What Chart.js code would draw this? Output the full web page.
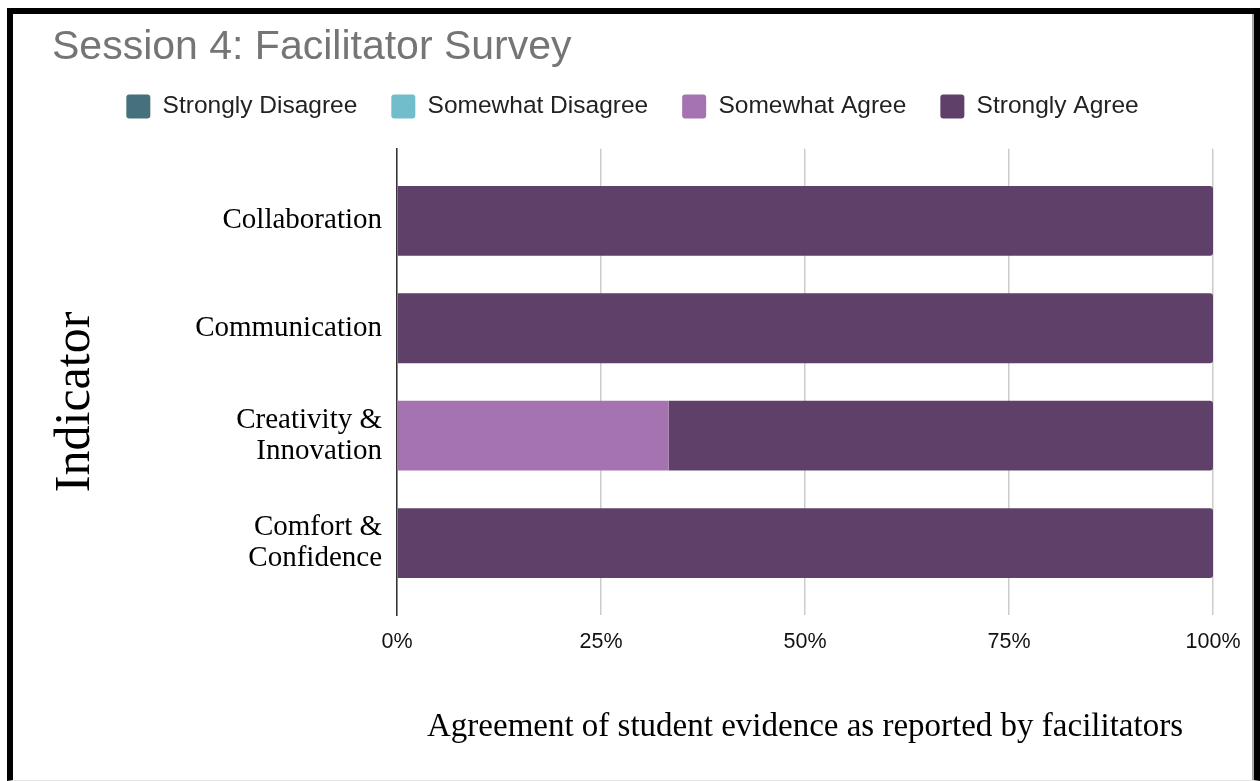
<!DOCTYPE html>
<html>
<head>
<meta charset="utf-8">
<script src="https://cdn.jsdelivr.net/npm/chart.js@4.4.1/dist/chart.umd.min.js"></script>
<style>
  html, body { margin: 0; padding: 0; background: #fff; }
  .frame {
    position: absolute; left: 7px; top: 8px;
    border: 6px solid #000; border-bottom: 1px solid #e6e6e6;
  }
  .box { position: relative; width: 1239px; height: 766px; border-right: 2px solid #a8a8a8; }
</style>
</head>
<body>
<div class="frame"><div class="box"><canvas id="Grafica"></canvas></div></div>
<script>
// survey answers, percent of facilitators per indicator
const categories = ['Collaboration', 'Communication', 'Creativity & Innovation', 'Comfort & Confidence'];
const stronglyDisagree = [0, 0, 0, 0];
const somewhatDisagree = [0, 0, 0, 0];
const somewhatAgree = [0, 0, 33.3, 0];
const stronglyAgree = [100, 100, 66.7, 100];
const xTicks = [0, 25, 50, 75, 100];

const toPoints = arr => arr.map((v, i) => ({ x: v, y: i }));

// "Indicator" is centred a bit lower than the plot, so it is drawn by hand
const yTitle = {
  id: 'yTitle',
  afterDraw(chart) {
    const ctx = chart.ctx;
    const area = chart.chartArea;
    ctx.save();
    ctx.translate(63, (area.top + area.bottom) / 2 + 20);
    ctx.rotate(-Math.PI / 2);
    ctx.font = '50px "Liberation Serif"';
    ctx.fillStyle = '#000';
    ctx.textAlign = 'center';
    ctx.textBaseline = 'middle';
    ctx.fillText('Indicator', 0, 0);
    ctx.restore();
  }
};

var ctx = document.querySelector('#Grafica').getContext('2d');
var myChart = new Chart(ctx, {
  type: 'bar',
  data: {
    datasets: [
      { label: 'Strongly Disagree', backgroundColor: '#46707d', data: toPoints(stronglyDisagree) },
      { label: 'Somewhat Disagree', backgroundColor: '#71bdcb', data: toPoints(somewhatDisagree) },
      { label: 'Somewhat Agree', backgroundColor: '#a573b0', data: toPoints(somewhatAgree) },
      { label: 'Strongly Agree', backgroundColor: '#5f4068', data: toPoints(stronglyAgree), borderRadius: 3 }
    ]
  },
  options: {
    indexAxis: 'y',
    responsive: true,
    maintainAspectRatio: false,
    animation: false,
    categoryPercentage: 1,
    barPercentage: 0.65,
    layout: { padding: { left: 39, right: 39, top: 0, bottom: 0 } },
    plugins: {
      tooltip: { enabled: false },
      title: {
        display: true,
        text: 'Session 4: Facilitator Survey',
        align: 'start',
        color: '#757575',
        font: { family: '"Liberation Sans", Arial, sans-serif', size: 41, weight: 'normal', lineHeight: 0.85 },
        padding: { top: 16.5, bottom: -5 }
      },
      legend: {
        position: 'top',
        labels: {
          boxWidth: 24,
          boxHeight: 24,
          padding: 34,
          useBorderRadius: true,
          borderRadius: 3,
          color: '#222',
          font: { family: '"Liberation Sans", Arial, sans-serif', size: 24.5 }
        }
      }
    },
    scales: {
      x: {
        type: 'linear',
        stacked: true,
        min: 0,
        max: 100,
        afterBuildTicks: s => { s.ticks = xTicks.map(v => ({ value: v })); },
        afterFit: s => { s.height = 165; },
        grid: { color: '#cccccc', lineWidth: 1.5, drawTicks: false },
        border: { display: false },
        ticks: {
          padding: 11,
          color: '#111',
          font: { family: '"Liberation Sans", Arial, sans-serif', size: 21.5, lineHeight: 1.5 },
          callback: v => v + '%'
        },
        title: {
          display: true,
          text: 'Agreement of student evidence as reported by facilitators',
          color: '#000',
          font: { family: '"Liberation Serif", serif', size: 33 },
          padding: { top: 0, bottom: 33 }
        }
      },
      xTop: {
        type: 'linear',
        axis: 'x',
        position: 'top',
        grid: { display: false },
        border: { display: false },
        ticks: { display: false },
        afterFit: s => { s.height = 20; }
      },
      y: {
        type: 'linear',
        stacked: true,
        reverse: true,
        offset: false,
        min: -0.67,
        max: 3.67,
        afterBuildTicks: s => { s.ticks = categories.map((c, i) => ({ value: i })); },
        afterFit: s => { s.width = 345; },
        grid: { display: false, drawTicks: false, offset: false },
        border: { display: true, color: '#333', width: 1.5 },
        ticks: {
          padding: 15,
          color: '#000',
          font: { family: '"Liberation Serif", serif', size: 29, lineHeight: 1.07 },
          callback: v => {
            const label = categories[v];
            const amp = label.indexOf('& ');
            return amp > 0 ? [label.slice(0, amp + 1), label.slice(amp + 2)] : label;
          }
        }
      }
    }
  },
  plugins: [yTitle]
});
</script>
</body>
</html>
